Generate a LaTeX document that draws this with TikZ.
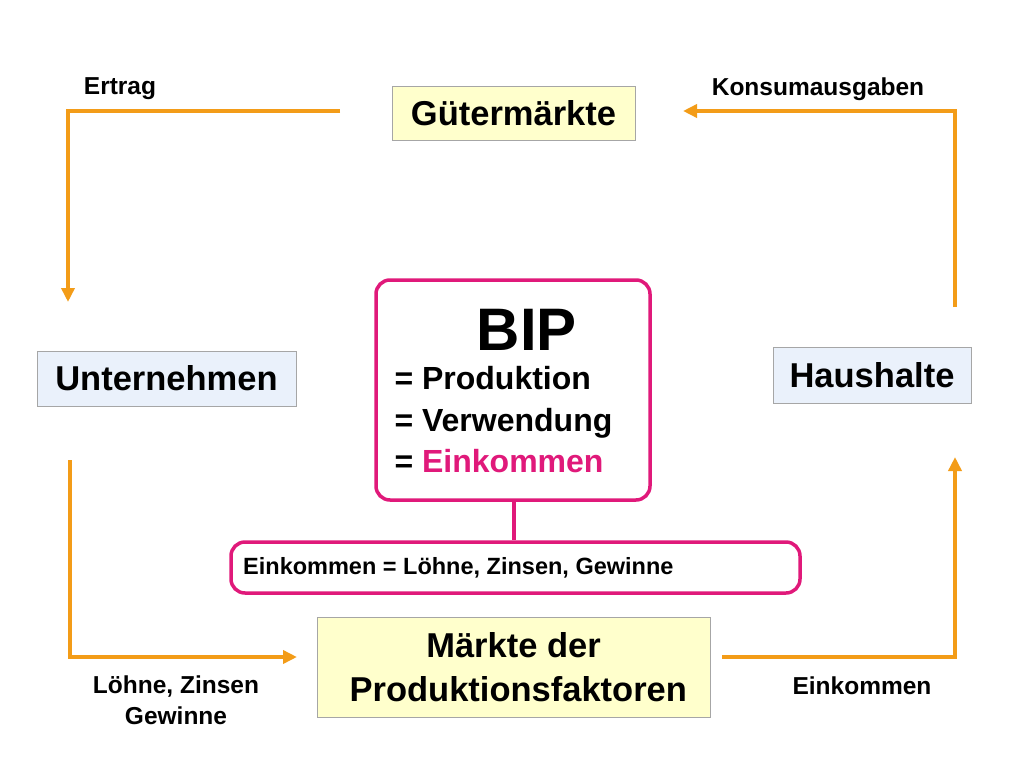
\documentclass[tikz,border=0pt]{standalone}
\usepackage{fontspec}
\setmainfont{Liberation Sans}
\usetikzlibrary{arrows.meta}
\definecolor{og}{HTML}{F39C18}
\definecolor{mg}{HTML}{E0197A}
\definecolor{yel}{HTML}{FFFFCC}
\definecolor{blu}{HTML}{EAF1FB}
\begin{document}
\begin{tikzpicture}[x=1pt,y=-1pt,
  sq/.style={draw=gray!70,line width=1pt,inner sep=0pt,font=\fontsize{34.5}{44}\selectfont\bfseries},
  rb/.style={draw=mg,line width=3.5pt,rounded corners=14pt,fill=white},
  flow/.style={draw=og,line width=3.5pt,-{Triangle[length=14pt,width=13pt]}},
  lab/.style={font=\fontsize{24.5}{31}\selectfont\bfseries,align=center}]
\useasboundingbox (0,0) rectangle (1024,768);
\node[sq,fill=yel,minimum width=243,minimum height=54] (gm) at (513.5,113) {Gütermärkte};
\node[sq,fill=blu,minimum width=259,minimum height=55] (un) at (166.5,378.5) {Unternehmen};
\node[sq,fill=blu,minimum width=198,minimum height=56] (hh) at (872,375) {Haushalte};
\node[sq,fill=yel,minimum width=393,minimum height=100,align=center] (mp) at (513.5,667) {Märkte der\\\ Produktionsfaktoren};
\node[rb,minimum width=274,minimum height=220] (bip) at (513,390) {};
\node[font=\fontsize{60}{66}\selectfont\bfseries] (bt) at (527,330) {BIP};
\node[font=\fontsize{32}{41.5}\selectfont\bfseries,align=left,anchor=north west] (bl) at (391,363) {= Produktion\\= Verwendung\\= \textcolor{mg}{Einkommen}};
\node[rb,minimum width=569,minimum height=51] (ek) at (515.5,567.5) {};
\node[font=\fontsize{23.5}{30}\selectfont\bfseries,anchor=west,inner sep=0pt] (ekt) at (243,568) {Einkommen = Löhne, Zinsen, Gewinne};
\draw[draw=mg,line width=3.5pt] (bip.south -| 514,0) -- (ek.north -| 514,0);
\coordinate (a1) at (340,111); \coordinate (a2) at (68,111); \coordinate (a3) at (68,302);
\draw[flow] (a1) -- (a2) -- (a3);
\coordinate (b1) at (955,307); \coordinate (b2) at (955,111); \coordinate (b3) at (683,111);
\draw[flow] (b1) -- (b2) -- (b3);
\coordinate (c1) at (70,460); \coordinate (c2) at (70,657); \coordinate (c3) at (297,657);
\draw[flow] (c1) -- (c2) -- (c3);
\coordinate (d1) at (722,657); \coordinate (d2) at (955,657); \coordinate (d3) at (955,457);
\draw[flow] (d1) -- (d2) -- (d3);
\node[lab] (l1) at (120,89) {Ertrag};
\node[lab] (l2) at (818,89) {Konsumausgaben};
\node[lab] (l3) at (176,700) {Löhne, Zinsen\\Gewinne};
\node[lab] (l4) at (862,686) {Einkommen};
\end{tikzpicture}
\end{document}
